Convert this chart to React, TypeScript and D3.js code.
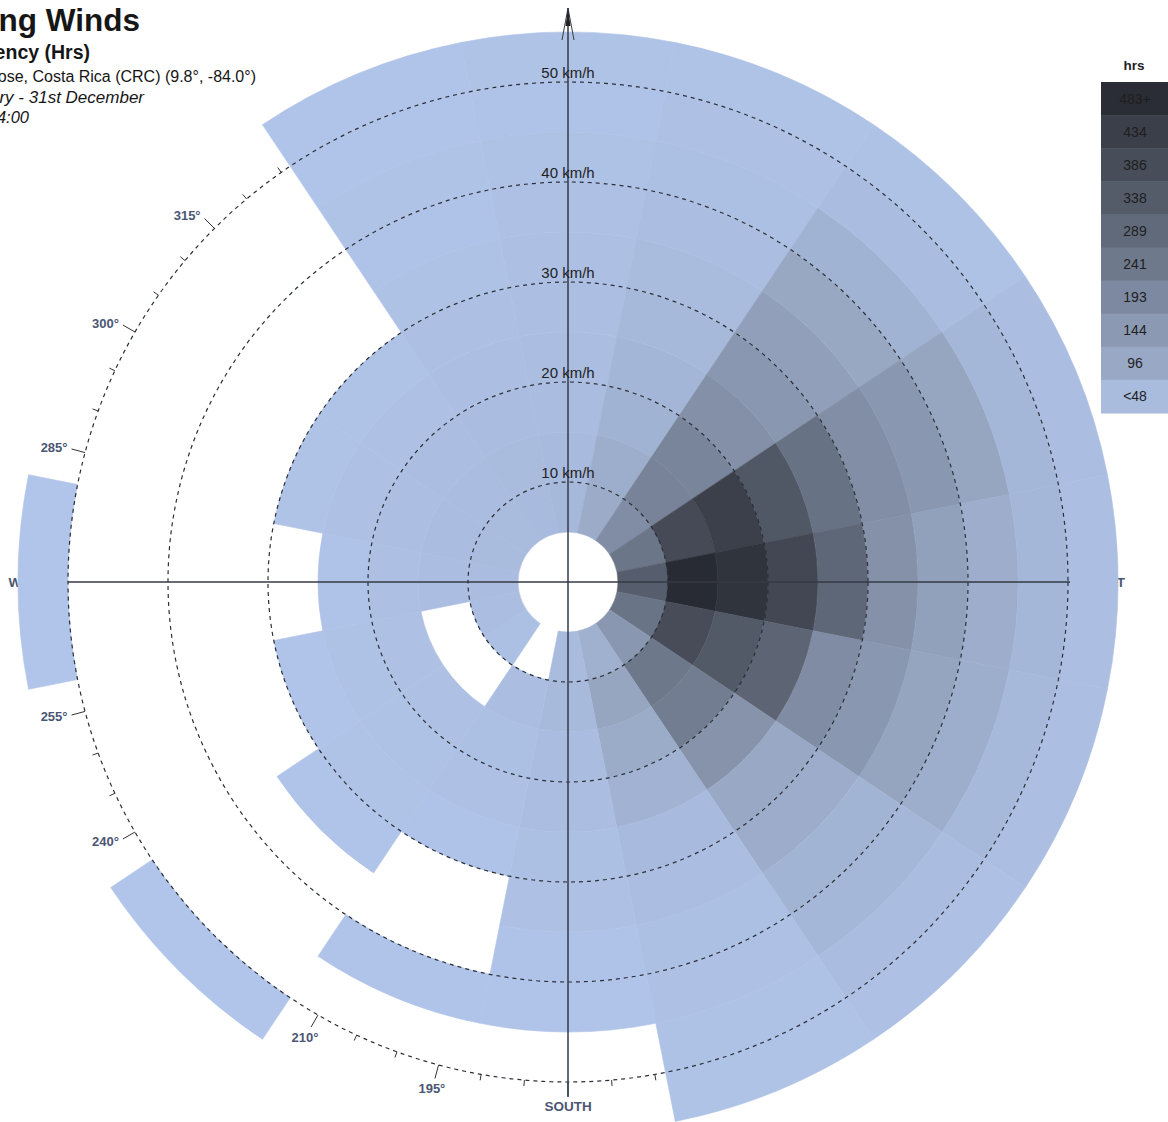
import React from 'react';
import * as d3 from 'd3';

const WIDTH = 1168;
const HEIGHT = 1122;
const CX = 568;
const CY = 582;

// 16 compass sectors, 22.5° each
const directionNames = ["N", "NNE", "NE", "ENE", "E", "ESE", "SE", "SSE", "S", "SSW", "SW", "WSW", "W", "WNW", "NW", "NNW"];
const sectorWidth = 22.5;
// speed bins (km/h lower edges); each bin is 5 km/h wide
const speedBinStarts = [5, 10, 15, 20, 25, 30, 35, 40, 45, 50];
const speedBinWidth = 5;
const speedRings = [10, 20, 30, 40, 50];

// hours per speed bin for each direction (0 = no data)
const hoursN = [45, 40, 32, 26, 22, 18, 15, 12, 10, 8];
const hoursNNE = [90, 80, 65, 55, 45, 35, 28, 20, 14, 8];
const hoursNE = [180, 210, 205, 172, 150, 125, 100, 65, 30, 12];
const hoursENE = [250, 395, 432, 350, 262, 178, 150, 105, 50, 28];
const hoursE = [330, 500, 462, 405, 300, 168, 122, 82, 52, 22];
const hoursESE = [258, 388, 345, 305, 185, 150, 110, 80, 45, 22];
const hoursSE = [150, 245, 228, 162, 95, 85, 62, 50, 30, 15];
const hoursSSE = [72, 108, 88, 66, 40, 26, 20, 15, 12, 8];
const hoursS = [35, 42, 30, 25, 20, 15, 10, 6, 0, 0];
const hoursSSW = [0, 25, 20, 15, 10, 0, 0, 4, 0, 0];
const hoursSW = [20, 0, 15, 12, 8, 4, 0, 0, 0, 2];
const hoursWSW = [25, 0, 15, 12, 6, 0, 0, 0, 0, 0];
const hoursW = [30, 25, 18, 10, 0, 0, 0, 0, 0, 2];
const hoursWNW = [35, 30, 22, 15, 8, 0, 0, 0, 0, 0];
const hoursNW = [35, 30, 25, 15, 8, 0, 0, 0, 0, 0];
const hoursNNW = [40, 35, 30, 22, 18, 12, 10, 8, 6, 4];

const hoursByDirection = [hoursN, hoursNNE, hoursNE, hoursENE, hoursE, hoursESE, hoursSE, hoursSSE,
  hoursS, hoursSSW, hoursSW, hoursWSW, hoursW, hoursWNW, hoursNW, hoursNNW];

// legend
const legendLabels = ["483+", "434", "386", "338", "289", "241", "193", "144", "96", "<48"];
const legendColors = ["#2a2d35", "#3b3f49", "#474d59", "#545b69", "#616a7b", "#6e798c", "#7d89a0", "#8b99b2", "#99a9c5", "#a9bcde"];

const colorStops = [0, 48, 96, 144, 193, 241, 289, 338, 386, 434, 483];
const colorRange = ["#b1c5ea", "#a6b8da", "#99a9c5", "#8b99b2", "#7d89a0", "#6e798c", "#616a7b", "#545b69", "#474d59", "#3b3f49", "#282b33"];

const degreeLabels = [15, 30, 45, 60, 75, 105, 120, 135, 150, 165, 195, 210, 225, 240, 255, 285, 300, 315, 330, 345];
const cardinalLabels = [
  { text: "NORTH", deg: 0, dist: 524 },
  { text: "EAST", deg: 90, dist: 539 },
  { text: "SOUTH", deg: 180, dist: 524 },
  { text: "WEST", deg: 270, dist: 540 },
];

const titleLines = [
  { text: "Prevailing Winds", x: 140, y: 31, size: 31.5, weight: "bold", style: "normal" },
  { text: "Frequency (Hrs)", x: 90, y: 59, size: 19.5, weight: "bold", style: "normal" },
  { text: "San Jose, Costa Rica (CRC) (9.8°, -84.0°)", x: 256, y: 82, size: 16, weight: "normal", style: "normal" },
  { text: "1st January - 31st December", x: 144, y: 103, size: 17, weight: "normal", style: "italic" },
  { text: "0:00 - 24:00", x: 29, y: 123, size: 16.5, weight: "normal", style: "italic" },
];

export default function App() {
  const r = d3.scaleLinear().domain([0, 55]).range([0, 550]);
  const color = d3.scaleLinear<string>().domain(colorStops).range(colorRange).clamp(true).interpolate(d3.interpolateRgb);
  const arc = d3.arc<any>();
  const rad = (deg: number) => (deg * Math.PI) / 180;
  const pt = (deg: number, rr: number) => [rr * Math.sin(rad(deg)), -rr * Math.cos(rad(deg))];

  const cells: any[] = [];
  hoursByDirection.forEach((vals, di) => {
    const center = di * sectorWidth;
    vals.forEach((v, bi) => {
      if (v <= 0) return;
      const s0 = speedBinStarts[bi];
      cells.push({
        key: `${directionNames[di]}-${bi}`,
        d: arc({
          innerRadius: r(s0),
          outerRadius: r(s0 + speedBinWidth),
          startAngle: rad(center - sectorWidth / 2),
          endAngle: rad(center + sectorWidth / 2),
        }),
        fill: color(v),
      });
    });
  });

  const ticks = d3.range(0, 360, 5);
  const rTick = r(50);
  const axisText = "#4b5673";

  return (
    <svg width={WIDTH} height={HEIGHT} style={{ position: 'absolute', left: 0, top: 0, background: '#fff' }}
      fontFamily="'Liberation Sans', Arial, sans-serif">
      <rect x={0} y={0} width={WIDTH} height={HEIGHT} fill="#fff" />
      <g transform={`translate(${CX},${CY})`}>
        {/* tick ring & direction labels (beneath bars) */}
        {ticks.map((t) => {
          const major = t % 15 === 0;
          const [x1, y1] = pt(t, rTick);
          const [x2, y2] = pt(t, rTick + (major ? 14 : 6));
          return <line key={`t${t}`} x1={x1} y1={y1} x2={x2} y2={y2} stroke="#333" strokeWidth={1} />;
        })}
        {degreeLabels.map((dg) => {
          const s = Math.sin(rad(dg));
          const c = Math.cos(rad(dg));
          const [tx, ty] = pt(dg, rTick + 14);
          let x, y, anchor;
          if (Math.abs(s) >= 0.6) {
            anchor = s < 0 ? "end" : "start";
            x = tx + (s < 0 ? -4 : 4);
            y = ty - 4 * c;
          } else {
            anchor = "middle";
            x = tx + 12 * s;
            y = ty - 10 * Math.sign(c);
          }
          return (
            <text key={`l${dg}`} x={x} y={y} textAnchor={anchor} dominantBaseline="central"
              fontSize={13} fontWeight="bold" fill={axisText} stroke="#fff" strokeWidth={2}
              paintOrder="stroke">{`${dg}°`}</text>
          );
        })}
        {cardinalLabels.map((cl) => {
          const [x, y] = pt(cl.deg, cl.dist);
          return (
            <text key={cl.text} x={x} y={y} textAnchor="middle" dominantBaseline="central"
              fontSize={13.5} fontWeight="bold" fill={axisText}>{cl.text}</text>
          );
        })}

        {/* cells */}
        {cells.map((c) => (
          <path key={c.key} d={c.d} fill={c.fill} stroke={c.fill} strokeWidth={0.6} />
        ))}

        {/* dashed speed rings */}
        {speedRings.map((s) => (
          <circle key={`c${s}`} r={r(s)} fill="none" stroke="#2b2f38" strokeWidth={1.2} strokeDasharray="4 4" />
        ))}

        {/* axes */}
        <line x1={0} y1={-574} x2={0} y2={515} stroke="#353a45" strokeWidth={1.5} />
        <line x1={-r(50)} y1={0} x2={r(50) + 2} y2={0} stroke="#353a45" strokeWidth={1.5} />
        <path d="M0,-574 L-6,-542 M0,-574 L6,-542" stroke="#353a45" strokeWidth={1} fill="none" />
        <path d="M0,-574 L-2.5,-556 L2.5,-556 Z" fill="#222" />

        {speedRings.map((s) => (
          <text key={`s${s}`} x={0} y={-r(s) - 4} textAnchor="middle" fontSize={15} fill="#222">{`${s} km/h`}</text>
        ))}
      </g>

      {/* title */}
      {titleLines.map((t, i) => (
        <text key={`ti${i}`} x={t.x} y={t.y} textAnchor="end" fontSize={t.size} fontWeight={t.weight}
          fontStyle={t.style} fill="#161616">{t.text}</text>
      ))}

      {/* legend */}
      <text x={1134} y={70} textAnchor="middle" fontSize={13.5} fontWeight="bold" fill="#222">hrs</text>
      {legendLabels.map((lab, i) => (
        <g key={`lg${i}`}>
          <rect x={1101} y={82 + i * 33.1} width={70} height={33.6} fill={legendColors[i]} />
          <text x={1135} y={82 + i * 33.1 + 16.5} textAnchor="middle" dominantBaseline="central" fontSize={14} fill="#1e1e1e">{lab}</text>
        </g>
      ))}
    </svg>
  );
}
